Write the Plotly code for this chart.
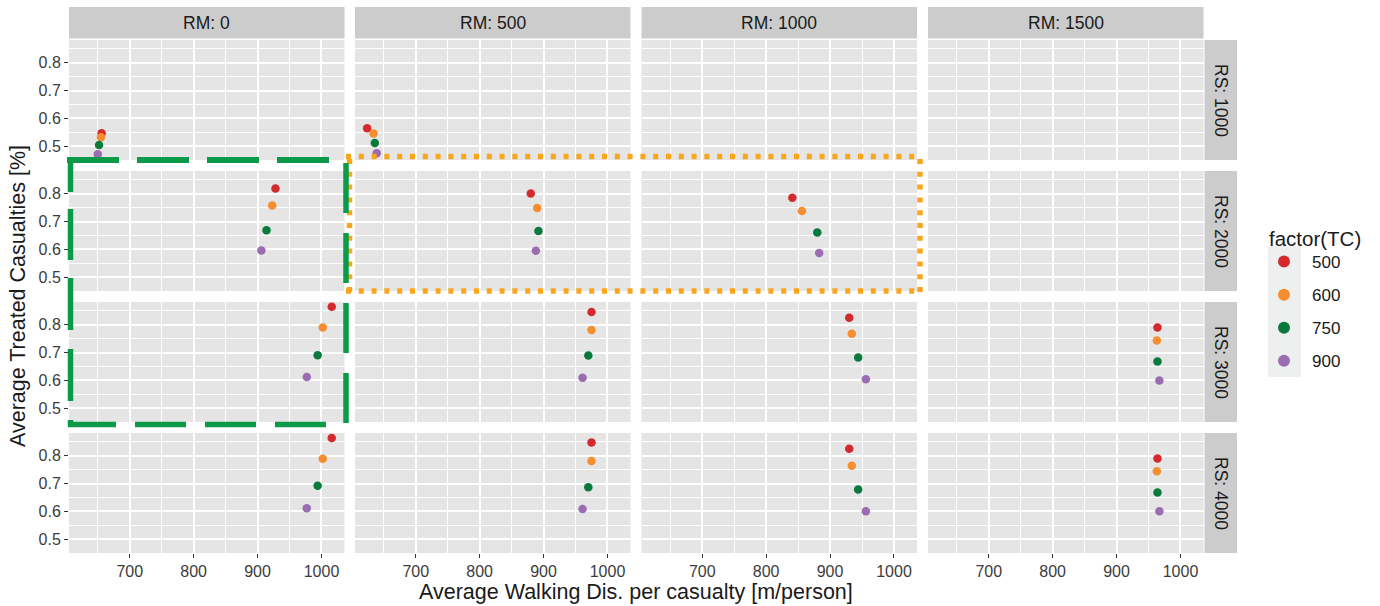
import plotly.graph_objects as go

# ---------------- data ----------------
rm_levels = [0, 500, 1000, 1500]
rs_levels = [1000, 2000, 3000, 4000]
tc_levels = [500, 600, 750, 900]
tc_colors = ["#D42A2D", "#F68D30", "#0A7A3C", "#9A6CB2"]

# panels that contain points (RM, RS)
panel_rm = [0, 0, 0, 0, 500, 500, 500, 500, 1000, 1000, 1000, 1500, 1500]
panel_rs = [1000, 2000, 3000, 4000, 1000, 2000, 3000, 4000, 2000, 3000, 4000, 3000, 4000]

walk_tc500 = [656, 928, 1016, 1016, 624, 880, 975, 975, 841, 930, 930, 964, 964]
treat_tc500 = [0.546, 0.819, 0.865, 0.864, 0.564, 0.801, 0.846, 0.848, 0.786, 0.825, 0.825, 0.790, 0.790]
walk_tc600 = [655, 923, 1002, 1002, 634, 890, 975, 975, 856, 934, 934, 963, 963]
treat_tc600 = [0.532, 0.758, 0.790, 0.789, 0.545, 0.749, 0.781, 0.781, 0.738, 0.768, 0.764, 0.743, 0.744]
walk_tc750 = [652, 914, 994, 994, 636, 892, 970, 970, 880, 944, 944, 964, 964]
treat_tc750 = [0.504, 0.669, 0.690, 0.692, 0.511, 0.666, 0.689, 0.687, 0.661, 0.682, 0.679, 0.668, 0.668]
walk_tc900 = [650, 906, 977, 977, 639, 888, 961, 961, 883, 956, 956, 967, 967]
treat_tc900 = [0.471, 0.596, 0.612, 0.611, 0.474, 0.595, 0.609, 0.608, 0.587, 0.604, 0.600, 0.599, 0.600]

walk_by_tc = [walk_tc500, walk_tc600, walk_tc750, walk_tc900]
treat_by_tc = [treat_tc500, treat_tc600, treat_tc750, treat_tc900]

x_ticks = [700, 800, 900, 1000]
x_minor = [650, 750, 850, 950]
y_ticks = [0.5, 0.6, 0.7, 0.8]
y_minor = [0.55, 0.65, 0.75, 0.85]
x_range = [605, 1036]
y_range = [0.45, 0.882]

# ---------------- layout geometry (pixels) ----------------
W, H = 1380, 606
col_left = [69, 355, 641.5, 928]
col_w = 275.5
row_top = [40, 171, 302, 433]
row_h = 120

def fx(px):
    return px / W

def fy(py):
    return 1 - py / H

FONT = "Liberation Sans, Arial, sans-serif"
TICKFONT = dict(family=FONT, size=16, color="#3C3C3C")
fig = go.Figure()
layout = {}

def axname(k):
    return ("x" if k == 1 else f"x{k}"), ("y" if k == 1 else f"y{k}")

for r, rs in enumerate(rs_levels):
    for c, rm in enumerate(rm_levels):
        k = r * 4 + c + 1
        xr, yr = axname(k)
        xa = "xaxis" if k == 1 else f"xaxis{k}"
        ya = "yaxis" if k == 1 else f"yaxis{k}"
        bottom = (r == 3)
        left = (c == 0)
        layout[xa] = dict(
            domain=[fx(col_left[c]), fx(col_left[c] + col_w)],
            anchor=yr, range=x_range, tickvals=x_ticks,
            showticklabels=bottom, ticks="outside" if bottom else "",
            ticklen=4, tickwidth=1.2, tickcolor="#333333",
            tickfont=TICKFONT,
            showgrid=True, gridcolor="white", gridwidth=1.8,
            zeroline=False, showline=False,
            minor=dict(tickvals=x_minor, showgrid=True, gridcolor="white", gridwidth=0.8, ticks=""),
            fixedrange=True,
        )
        layout[ya] = dict(
            domain=[fy(row_top[r] + row_h), fy(row_top[r])],
            anchor=xr, range=y_range, tickvals=y_ticks,
            tickformat=".1f",
            showticklabels=left, ticks="outside" if left else "",
            ticklen=4, tickwidth=1.2, tickcolor="#333333",
            tickfont=TICKFONT,
            showgrid=True, gridcolor="white", gridwidth=1.8,
            zeroline=False, showline=False,
            minor=dict(tickvals=y_minor, showgrid=True, gridcolor="white", gridwidth=0.8, ticks=""),
            fixedrange=True,
        )

# empty placeholder traces so that every facet panel is drawn
used = set()
for p in range(len(panel_rm)):
    used.add(rs_levels.index(panel_rs[p]) * 4 + rm_levels.index(panel_rm[p]) + 1)
for k in range(1, 17):
    if k not in used:
        xr, yr = axname(k)
        fig.add_trace(go.Scatter(x=[None], y=[None], xaxis=xr, yaxis=yr, mode="markers",
                                 showlegend=False, hoverinfo="skip"))

# points
for t, tc in enumerate(tc_levels):
    first = True
    for p in range(len(panel_rm)):
        c = rm_levels.index(panel_rm[p])
        r = rs_levels.index(panel_rs[p])
        xr, yr = axname(r * 4 + c + 1)
        fig.add_trace(go.Scatter(
            x=[walk_by_tc[t][p]], y=[treat_by_tc[t][p]],
            xaxis=xr, yaxis=yr,
            mode="markers", name=str(tc), legendgroup=str(tc), showlegend=first,
            marker=dict(color=tc_colors[t], size=8.5, line=dict(width=0)),
            cliponaxis=True,
        ))
        first = False

shapes = []
annotations = []
STRIP = "#CCCCCC"
# top strips
for c, rm in enumerate(rm_levels):
    shapes.append(dict(type="rect", xref="paper", yref="paper",
                       x0=fx(col_left[c]), x1=fx(col_left[c] + col_w), y0=fy(38.5), y1=fy(7),
                       fillcolor=STRIP, line=dict(width=0), layer="below"))
    annotations.append(dict(text=f"RM: {rm}", xref="paper", yref="paper",
                            x=fx(col_left[c] + col_w / 2), y=fy(23), showarrow=False,
                            xanchor="center", yanchor="middle",
                            font=dict(family=FONT, size=17.5, color="#1A1A1A")))
# right strips
for r, rs in enumerate(rs_levels):
    shapes.append(dict(type="rect", xref="paper", yref="paper",
                       x0=fx(1204.5), x1=fx(1237), y0=fy(row_top[r] + row_h), y1=fy(row_top[r]),
                       fillcolor=STRIP, line=dict(width=0), layer="below"))
    annotations.append(dict(text=f"RS: {rs}", xref="paper", yref="paper",
                            x=fx(1221), y=fy(row_top[r] + row_h / 2), showarrow=False,
                            textangle=90, xanchor="center", yanchor="middle",
                            font=dict(family=FONT, size=17.5, color="#1A1A1A")))

# legend key background
shapes.append(dict(type="rect", xref="paper", yref="paper",
                   x0=fx(1268), x1=fx(1301), y0=fy(377), y1=fy(246),
                   fillcolor="#EEF0F0", line=dict(width=0), layer="below"))

# highlight frames (annotation overlays)
ORANGE = "#F9A61C"
GREEN = "#0A9A48"
def line(x0, y0, x1, y1, color, width, dash):
    return dict(type="line", xref="paper", yref="paper",
                x0=fx(x0), y0=fy(y0), x1=fx(x1), y1=fy(y1),
                line=dict(color=color, width=width, dash=dash), layer="above")

# orange dotted box
shapes.append(line(346, 156.5, 921, 156.5, ORANGE, 5.5, "5px,7.8px"))
shapes.append(line(920, 159, 920, 293, ORANGE, 5.5, "5px,7.8px"))
shapes.append(line(346, 291, 921, 291, ORANGE, 5.5, "5px,7.8px"))
shapes.append(line(349.5, 159, 349.5, 293, ORANGE, 5.5, "5px,7.8px"))
# green dashed box
shapes.append(line(67, 160, 346, 160, GREEN, 6, "52px,18px"))
shapes.append(line(70.5, 157, 70.5, 427, GREEN, 5.5, "35px,17px,51px,18px,52px,19px,52px,19px,80px"))
shapes.append(line(68, 424.5, 346, 424.5, GREEN, 5.5, "48px,19px,51px,19px,51px,19px,51px,40px"))
shapes.append(line(346, 163, 346, 427, GREEN, 5.5, "50px,20px"))

# axis titles
annotations.append(dict(text="Average Walking Dis. per casualty [m/person]", xref="paper", yref="paper",
                        x=fx(636), y=fy(592), showarrow=False, xanchor="center", yanchor="middle",
                        font=dict(family=FONT, size=21.5, color="#1A1A1A")))
annotations.append(dict(text="Average Treated Casualties [%]", xref="paper", yref="paper",
                        x=fx(18), y=fy(296), showarrow=False, textangle=-90,
                        xanchor="center", yanchor="middle",
                        font=dict(family=FONT, size=21.5, color="#1A1A1A")))
# legend title
annotations.append(dict(text="factor(TC)", xref="paper", yref="paper",
                        x=fx(1267), y=fy(238), showarrow=False, xanchor="left", yanchor="middle",
                        font=dict(family=FONT, size=20.5, color="#1A1A1A")))

fig.update_layout(
    width=W, height=H,
    margin=dict(l=0, r=0, t=0, b=0),
    paper_bgcolor="white", plot_bgcolor="#E5E5E5",
    shapes=shapes, annotations=annotations,
    showlegend=True,
    legend=dict(
        x=fx(1256), y=fy(244), xanchor="left", yanchor="top",
        font=dict(family=FONT, size=17, color="#1A1A1A"),
        bgcolor="rgba(0,0,0,0)", tracegroupgap=8, itemsizing="constant",
        itemwidth=46,
    ),
    **layout,
)

fig.write_html("out.html", config={"displayModeBar": False},
               post_script="document.body.style.margin='0';document.body.style.padding='0';")
